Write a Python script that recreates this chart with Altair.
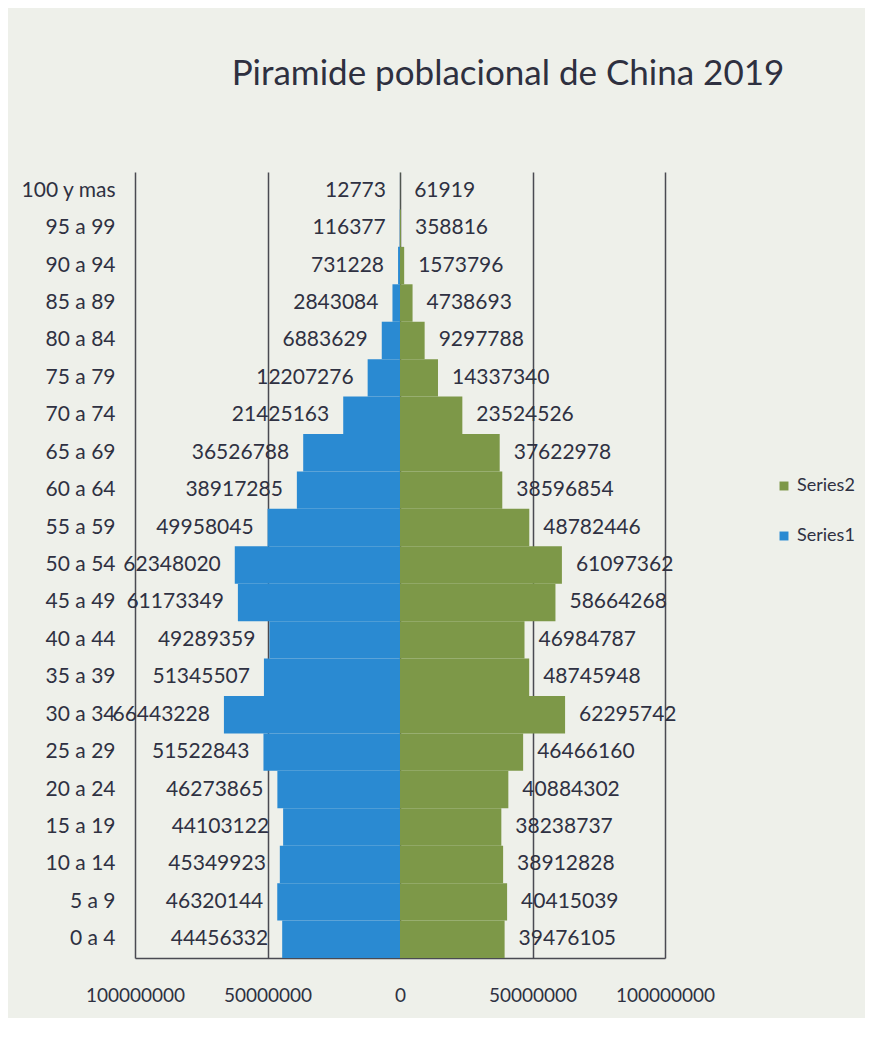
import altair as alt
import pandas as pd

grupos = ["100 y mas", "95 a 99", "90 a 94", "85 a 89", "80 a 84", "75 a 79",
          "70 a 74", "65 a 69", "60 a 64", "55 a 59", "50 a 54", "45 a 49",
          "40 a 44", "35 a 39", "30 a 34", "25 a 29", "20 a 24", "15 a 19",
          "10 a 14", "5 a 9", "0 a 4"]
series1 = [12773, 116377, 731228, 2843084, 6883629, 12207276, 21425163,
           36526788, 38917285, 49958045, 62348020, 61173349, 49289359,
           51345507, 66443228, 51522843, 46273865, 44103122, 45349923,
           46320144, 44456332]
series2 = [61919, 358816, 1573796, 4738693, 9297788, 14337340, 23524526,
           37622978, 38596854, 48782446, 61097362, 58664268, 46984787,
           48745948, 62295742, 46466160, 40884302, 38238737, 38912828,
           40415039, 39476105]
ticks_x = [-100000000, -50000000, 0, 50000000, 100000000]

rows = []
for g, a, b in zip(grupos, series1, series2):
    rows.append({"grupo": g, "serie": "Series1", "valor": -a, "etiqueta": str(a)})
    rows.append({"grupo": g, "serie": "Series2", "valor": b, "etiqueta": str(b)})
df = pd.DataFrame(rows)

FONT = "Lato"
TXT = "#2f3142"

x_enc = alt.X("valor:Q",
              scale=alt.Scale(domain=[-100000000, 100000000], nice=False),
              axis=alt.Axis(values=ticks_x, title=None, grid=True,
                            gridColor="#4a4a52", gridWidth=1.5,
                            domainColor="#4a4a52", domainWidth=1.5,
                            ticks=False, labelPadding=28,
                            labelOverlap=False, labelBound=False,
                            labelFlush=False,
                            labelExpr="format(abs(datum.value), 'd')",
                            labelFont=FONT, labelFontSize=19,
                            labelColor=TXT))
y_enc = alt.Y("grupo:N", sort=grupos,
              scale=alt.Scale(paddingInner=0, paddingOuter=0),
              axis=alt.Axis(title=None, domain=False, ticks=False,
                            labelPadding=20, labelFont=FONT,
                            labelFontSize=21, labelColor=TXT))

base = alt.Chart(df)

bars = base.mark_bar().encode(
    x=x_enc,
    y=y_enc,
    color=alt.Color("serie:N",
                    scale=alt.Scale(domain=["Series2", "Series1"],
                                    range=["#7d9848", "#2a8ad2"]),
                    legend=alt.Legend(title=None, orient="none",
                                      legendX=640, legendY=305,
                                      symbolType="square", symbolSize=80,
                                      symbolStrokeWidth=0,
                                      labelFont=FONT, labelFontSize=18,
                                      labelColor=TXT, rowPadding=32)),
)

lab_left = base.transform_filter(alt.datum.serie == "Series1").mark_text(
    align="right", baseline="middle", dx=-14, font=FONT, fontSize=21,
    color=TXT).encode(x="valor:Q", y=alt.Y("grupo:N", sort=grupos),
                      text="etiqueta:N")

lab_right = base.transform_filter(alt.datum.serie == "Series2").mark_text(
    align="left", baseline="middle", dx=14, font=FONT, fontSize=21,
    color=TXT).encode(x="valor:Q", y=alt.Y("grupo:N", sort=grupos),
                      text="etiqueta:N")

chart = alt.layer(bars, lab_left, lab_right).properties(
    width=530,
    height=786,
    title=alt.Title("Piramide poblacional de China 2019", font=FONT,
                    fontSize=35, fontWeight="normal", color="#2e3040",
                    anchor="middle", dx=108, offset=80),
    autosize=alt.AutoSizeParams(type="none"),
    padding={"left": 127, "top": 164, "right": 200, "bottom": 60},
    background="#eef0ea",
).configure_view(stroke=None)

chart.save("out.html", embed_options={"renderer": "svg", "actions": False})
